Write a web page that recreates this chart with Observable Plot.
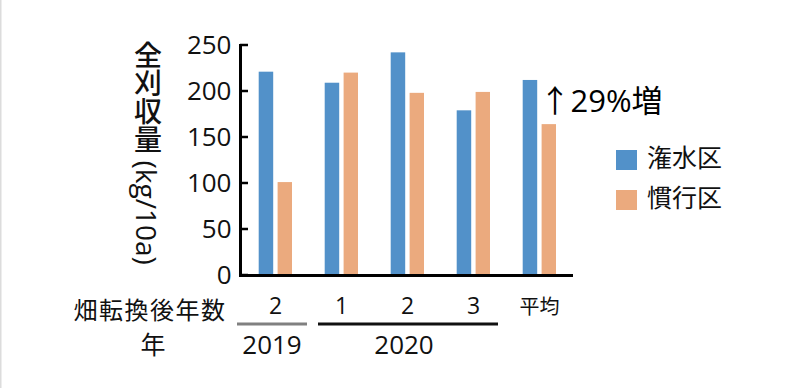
<!DOCTYPE html>
<html><head><meta charset="utf-8">
<script src="https://cdn.jsdelivr.net/npm/d3@7"></script>
<script src="https://cdn.jsdelivr.net/npm/@observablehq/plot@0.6"></script>
<style>
html,body{margin:0;padding:0;background:#fff;}
#chart{width:792px;height:388px;}
</style></head>
<body><div id="chart"></div>
<script>
const groups = ["2019-2", "2020-1", "2020-2", "2020-3", "平均"];
const yearsAfter = ["2", "1", "2", "3", "平均"];
const series = ["潅水区", "慣行区"];
const irrigated = [221, 209, 242, 179, 212];
const conventional = [101, 220, 198, 199, 164];
const colors = ["#5291c9", "#ebaa7e"];
const yTicks = [0, 50, 100, 150, 200, 250];
const yLabel = "全刈収量 (kg/10a)";
const rowLabel = "畑転換後年数";
const yearLabel = "年";
const years = [{name: "2019", from: "2019-2", to: "2019-2", color: "#808080"},
               {name: "2020", from: "2020-1", to: "2020-3", color: "#111"}];
const annotation = "↑29%増";

const font = "'Open Sans', 'Noto Sans CJK JP', sans-serif";
const ink = "#111";
const data = groups.flatMap((g, i) => [
  {group: g, series: series[0], value: irrigated[i]},
  {group: g, series: series[1], value: conventional[i]}
]);

const plot = Plot.plot({
  width: 792, height: 388,
  marginLeft: 240, marginRight: 219, marginTop: 45, marginBottom: 113,
  style: {fontFamily: font, color: ink, background: "#fff"},
  x: {type: "band", domain: groups, padding: 0, axis: null},
  y: {domain: [0, 250], axis: null},
  marks: [
    Plot.barY(data.filter(d => d.series === series[0]), {x: "group", y: "value", fill: colors[0], insetLeft: 16.7, insetRight: 34.8}),
    Plot.barY(data.filter(d => d.series === series[1]), {x: "group", y: "value", fill: colors[1], insetLeft: 35.6, insetRight: 16}),
    Plot.axisY(yTicks, {tickSize: 0, tickPadding: 9, fontSize: 26, label: null, fill: ink}),
    Plot.frame({anchor: "left", strokeWidth: 3, stroke: "#000"}),
    Plot.ruleY([0], {strokeWidth: 3, stroke: "#000"}),
    Plot.text(groups.map((g, i) => ({group: g, t: yearsAfter[i]})), {x: "group", text: "t", frameAnchor: "bottom", dy: 38, fontSize: d => d.t.length > 1 ? 20 : 23, fill: ink}),
    Plot.text([{group: groups[4], t: annotation, v: (irrigated[4] + conventional[4]) / 2}], {x: "group", y: "v", text: "t", textAnchor: "start", dx: 0, fontSize: 31, fill: "#000"})
  ]
});
document.getElementById("chart").appendChild(plot);

const svg = d3.select(plot);
const x = plot.scale("x"), y = plot.scale("y");
const bw = x.bandwidth;
const xc = g => x.apply(g) + bw / 2;

// inward ticks
svg.append("g").selectAll("line").data(yTicks).join("line")
  .attr("x1", 240).attr("x2", 248)
  .attr("y1", d => y.apply(d)).attr("y2", d => y.apply(d))
  .attr("stroke", "#000").attr("stroke-width", 2.5);

// y label, vertical writing
svg.append("text").text(yLabel)
  .attr("x", 147).attr("y", 153)
  .attr("text-anchor", "middle")
  .style("writing-mode", "vertical-rl")
  .attr("font-size", 28).attr("font-weight", 500).attr("font-family", font).attr("fill", ink);

// row labels
svg.append("text").text(rowLabel).attr("x", 150).attr("y", 313)
  .attr("text-anchor", "middle").attr("dominant-baseline", "middle")
  .attr("font-size", 24).attr("letter-spacing", 1.5).attr("font-family", font).attr("fill", ink);
svg.append("text").text(yearLabel).attr("x", 153).attr("y", 347)
  .attr("text-anchor", "middle").attr("dominant-baseline", "middle")
  .attr("font-size", 25).attr("font-family", font).attr("fill", ink);

// year bracket lines and year labels
const yr = svg.append("g");
yr.selectAll("line").data(years).join("line")
  .attr("x1", d => d.from === d.to ? xc(d.from) - 38 : xc(d.from) - 23)
  .attr("x2", d => d.from === d.to ? xc(d.to) + 32 : xc(d.to) + 25)
  .attr("y1", 324).attr("y2", 324)
  .attr("stroke", d => d.color).attr("stroke-width", 3);
yr.selectAll("text").data(years).join("text")
  .text(d => d.name)
  .attr("x", d => (xc(d.from) + xc(d.to)) / 2 - 3)
  .attr("y", 347).attr("text-anchor", "middle").attr("dominant-baseline", "middle")
  .attr("font-size", 26).attr("font-family", font).attr("fill", ink);

// legend
const lg = svg.append("g");
series.forEach((s, i) => {
  lg.append("rect").attr("x", 616).attr("y", 150 + i * 40).attr("width", 21).attr("height", 20).attr("fill", colors[i]);
  lg.append("text").text(s).attr("x", 647).attr("y", 160 + i * 40)
    .attr("text-anchor", "start").attr("dominant-baseline", "middle")
    .attr("font-size", 25).attr("font-family", font).attr("fill", ink);
});

// left border
svg.append("line").attr("x1", 0.75).attr("x2", 0.75).attr("y1", 0).attr("y2", 388)
  .attr("stroke", "#dcdcdc").attr("stroke-width", 1.5);
</script></body></html>
